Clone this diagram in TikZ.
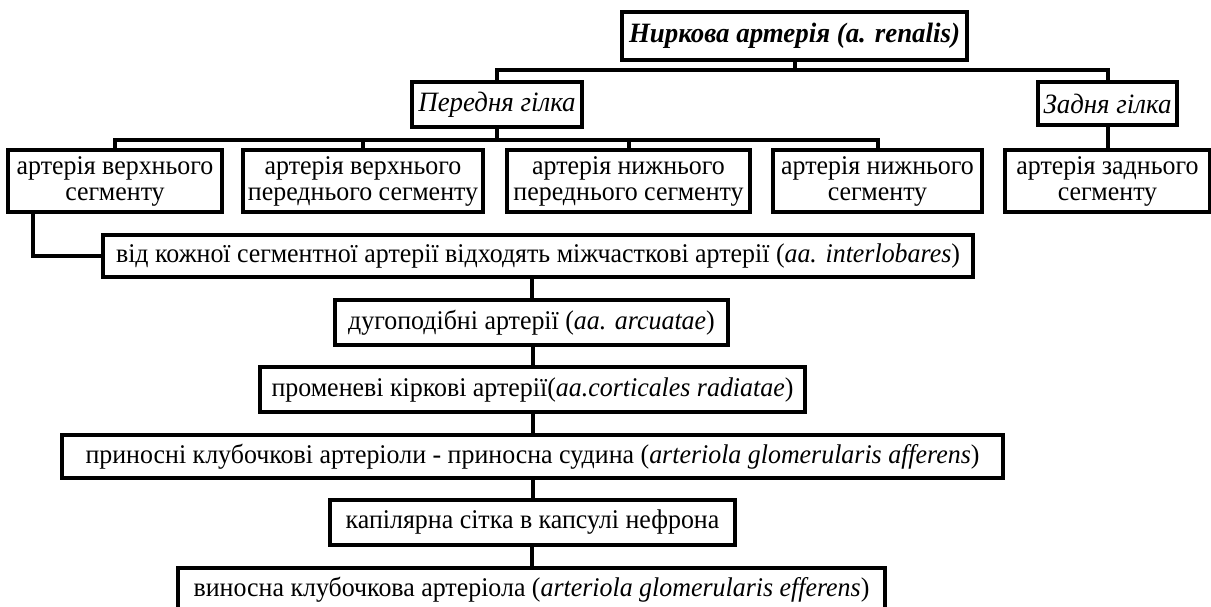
\documentclass[tikz,border=0pt]{standalone}
\usepackage{fontspec}
\setmainfont{Liberation Serif}[FakeStretch=0.96]
\usetikzlibrary{shadows}
\begin{document}
\begin{tikzpicture}[x=1pt,y=-1pt,
  box/.style={draw=black,line width=4pt,fill=white,inner sep=0pt,align=center,
    drop shadow={shadow xshift=1.5pt,shadow yshift=-1.5pt,fill=black,opacity=1},
    font=\fontsize{27}{26}\selectfont},
  link/.style={line width=4pt,line cap=rect}]
\useasboundingbox (0,0) rectangle (1211,606);
% renal artery and its two branches
\node[box,minimum width=345,minimum height=48,font=\fontsize{28}{28}\selectfont\bfseries\itshape]
  (ren) at (794.5,36) {Ниркова артерія (a. renalis)};
\node[box,minimum width=170,minimum height=45,font=\fontsize{28}{28}\selectfont\itshape]
  (ant) at (497,104.5) {Передня гілка};
\node[box,minimum width=139,minimum height=43,font=\fontsize{28}{28}\selectfont\itshape]
  (post) at (1107.5,103.5) {Задня гілка};
% segmental arteries
\node[box,minimum width=214,minimum height=62] (s1) at (115,181) {артерія верхнього\\сегменту};
\node[box,minimum width=240,minimum height=62] (s2) at (363,181) {артерія верхнього\\переднього сегменту};
\node[box,minimum width=243,minimum height=62] (s3) at (628.5,181) {артерія нижнього\\переднього сегменту};
\node[box,minimum width=209,minimum height=62] (s4) at (877.5,181) {артерія нижнього\\сегменту};
\node[box,minimum width=205,minimum height=62] (s5) at (1107.5,181) {артерія заднього\\сегменту};
% downstream chain
\node[box,minimum width=870,minimum height=42] (inter) at (538,256)
  {від кожної сегментної артерії відходять міжчасткові артерії (\textit{aa. interlobares})};
\node[box,minimum width=393,minimum height=45] (arc) at (531.5,322.5)
  {дугоподібні артерії (\textit{aa. arcuatae})};
\node[box,minimum width=545,minimum height=45] (rad) at (532.5,389.5)
  {променеві кіркові артерії(\textit{aa.corticales radiatae})};
\node[box,minimum width=941,minimum height=43] (aff) at (532.5,456.5)
  {приносні клубочкові артеріоли - приносна судина (\textit{arteriola glomerularis afferens})};
\node[box,minimum width=405,minimum height=45] (cap) at (532.5,522.5)
  {капілярна сітка в капсулі нефрона};
\node[box,minimum width=707,minimum height=44] (eff) at (531.5,590)
  {виносна клубочкова артеріола (\textit{arteriola glomerularis efferens})};
% bus levels
\coordinate (busA) at (0,70);
\coordinate (busB) at (0,140);
\coordinate (c1) at (33,212);
% connectors
\draw[link] (ren.south) -- (ren.south |- busA);
\draw[link] (ant.north) |- (busA -| post.north) -- (post.north);
\draw[link] (ant.south) -- (ant.south |- busB);
\draw[link] (s1.north) |- (busB -| s4.north) -- (s4.north);
\draw[link] (s2.north) -- (s2.north |- busB);
\draw[link] (s3.north) -- (s3.north |- busB);
\draw[link] (post.south) -- (s5.north);
\draw[link] (c1) |- (inter.west);
\draw[link] (arc.north) -- (arc.north |- inter.south);
\draw[link] (rad.north) -- (rad.north |- arc.south);
\draw[link] (aff.north) -- (aff.north |- rad.south);
\draw[link] (cap.north) -- (cap.north |- aff.south);
\draw[link] (eff.north) -- (eff.north |- cap.south);
\end{tikzpicture}
\end{document}
